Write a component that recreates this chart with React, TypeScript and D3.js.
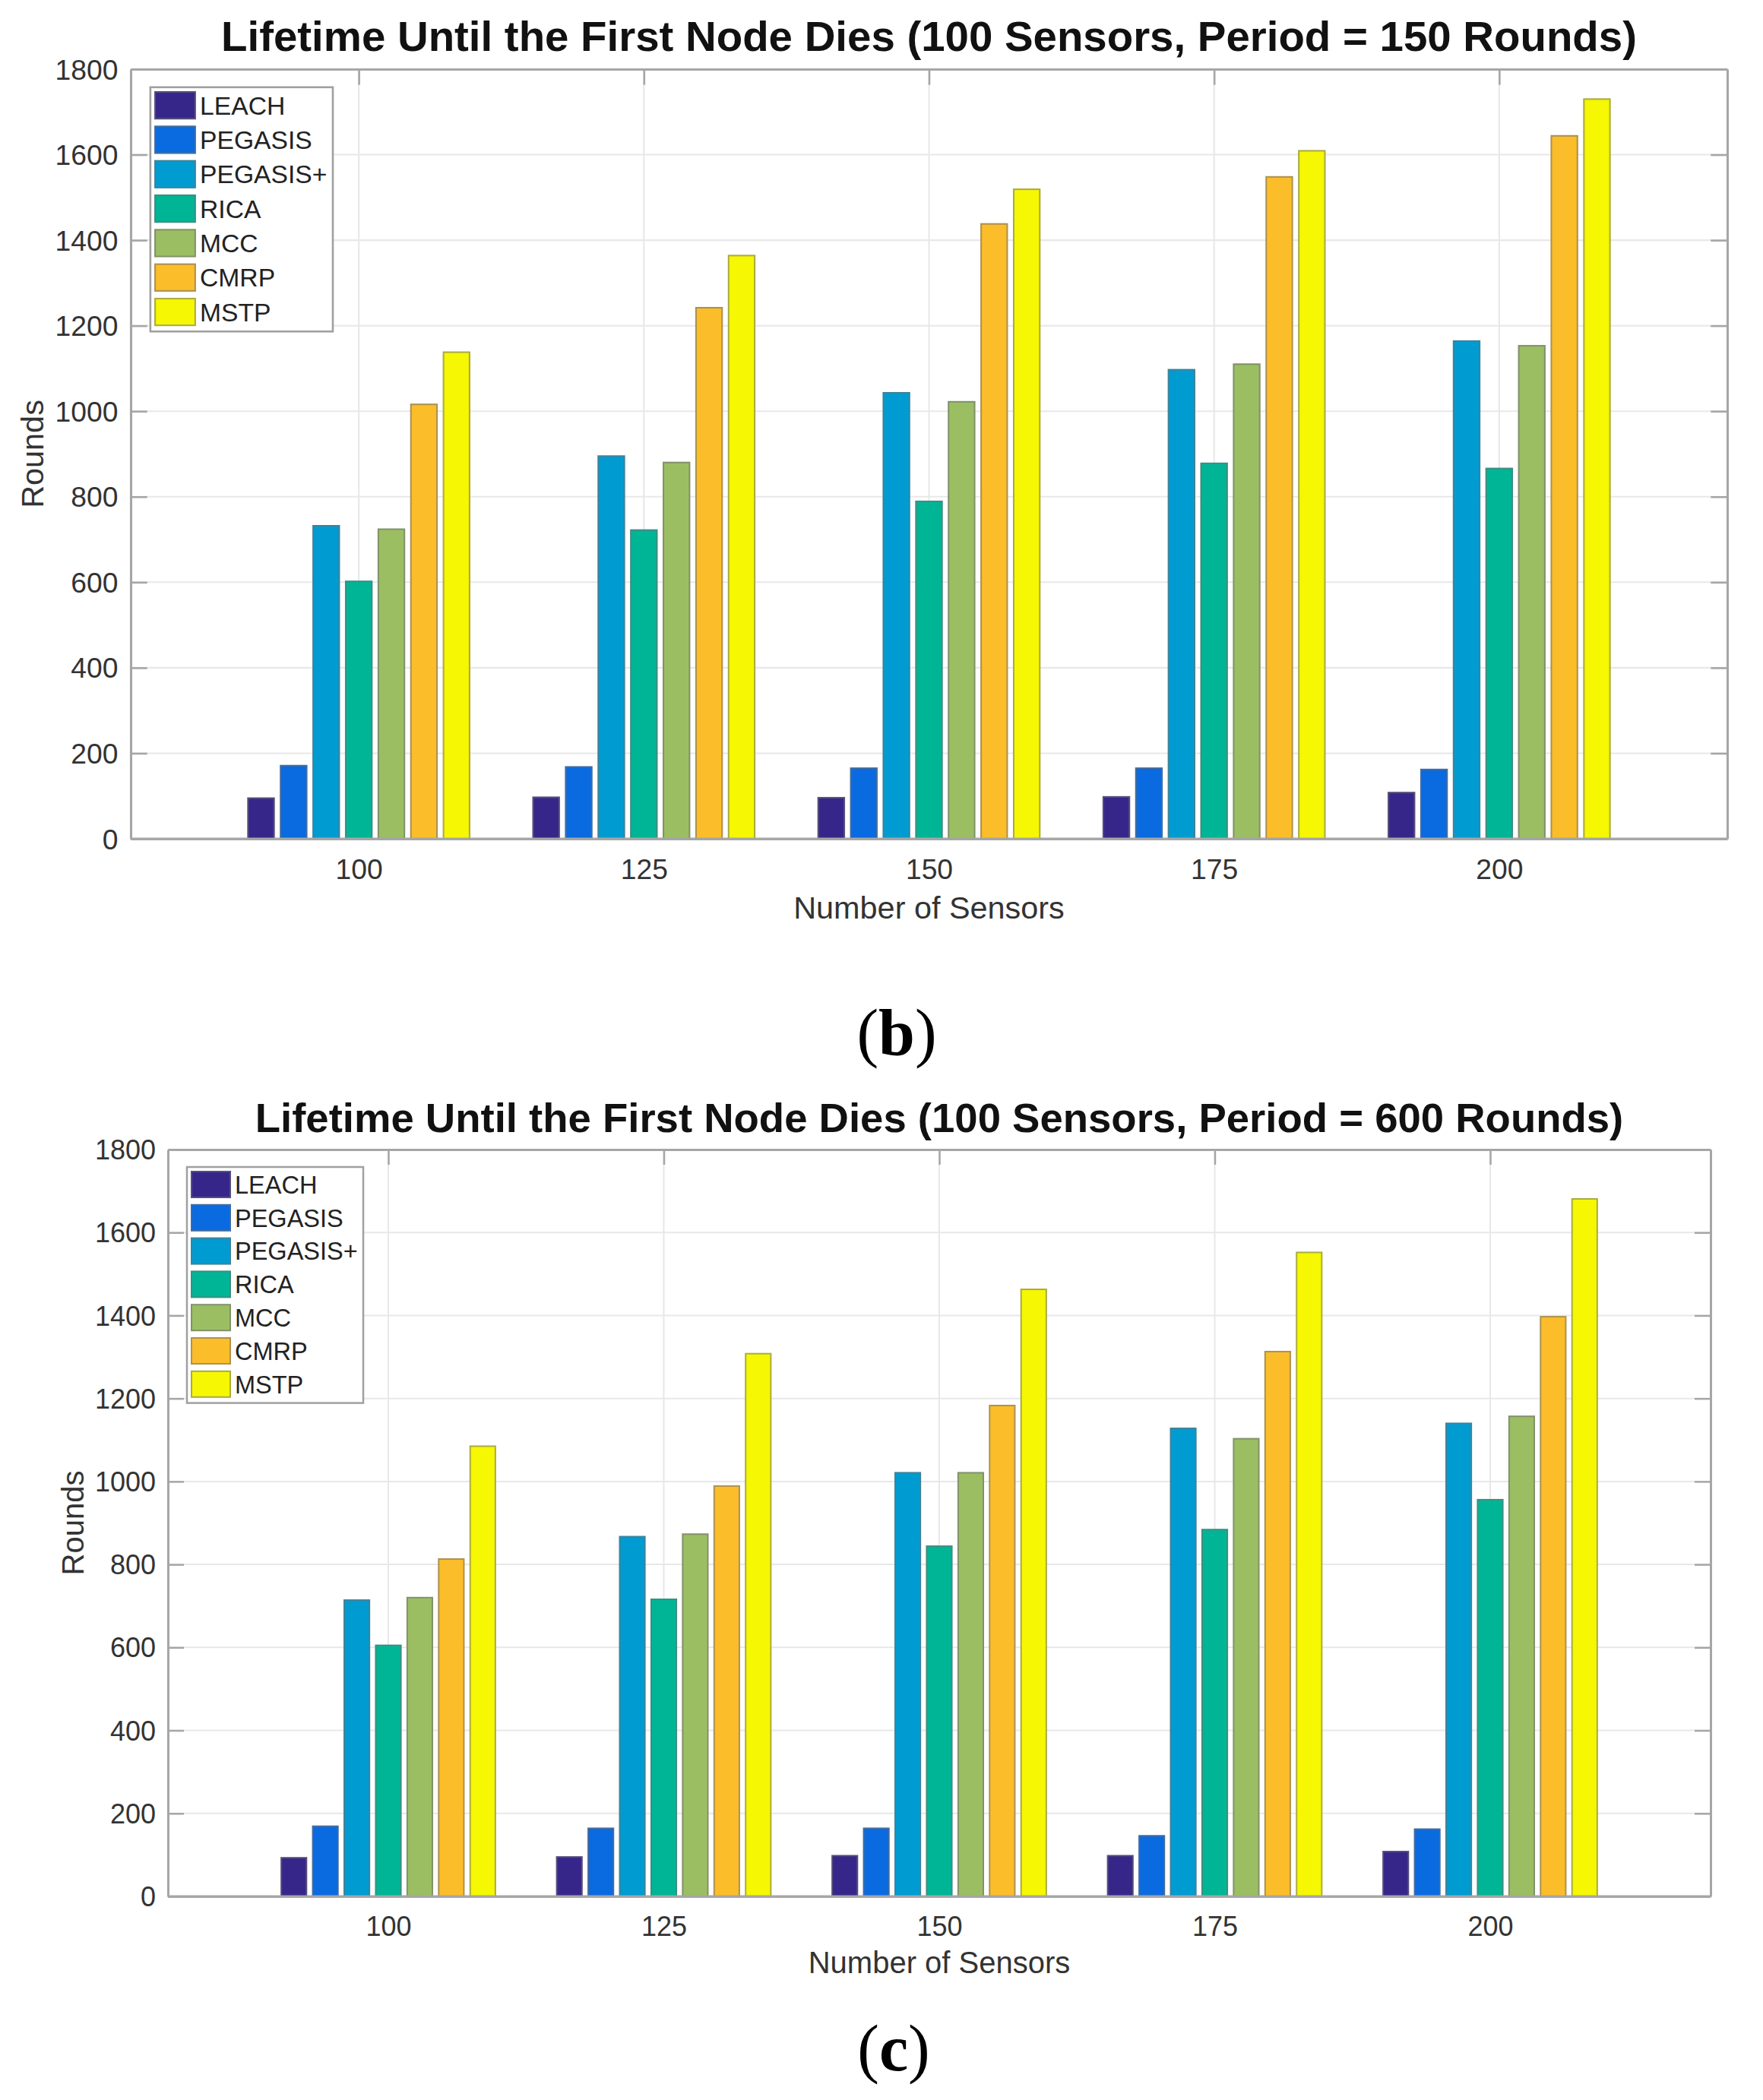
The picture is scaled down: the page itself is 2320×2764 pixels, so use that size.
import { useEffect, useRef } from 'react';
import * as d3 from 'd3';

const categories = ['100', '125', '150', '175', '200'];
const seriesNames = ['LEACH', 'PEGASIS', 'PEGASIS+', 'RICA', 'MCC', 'CMRP', 'MSTP'];
const seriesColors = ['#37268a', '#0a6ae0', '#009cd1', '#00b596', '#9bbe63', '#fbbd2a', '#f6f702'];
const yTicks = [0, 200, 400, 600, 800, 1000, 1200, 1400, 1600, 1800];

// (b) period = 150 rounds
const leachP150 = [95, 97, 96, 98, 108];
const pegasisP150 = [171, 168, 165, 165, 162];
const pegasisPlusP150 = [732, 895, 1043, 1097, 1164];
const ricaP150 = [602, 722, 789, 878, 866];
const mccP150 = [724, 880, 1022, 1110, 1153];
const cmrpP150 = [1016, 1242, 1438, 1548, 1644];
const mstpP150 = [1138, 1364, 1519, 1609, 1730];

// (c) period = 600 rounds
const leachP600 = [93, 95, 98, 98, 108];
const pegasisP600 = [169, 164, 164, 146, 162];
const pegasisPlusP600 = [714, 867, 1021, 1128, 1140];
const ricaP600 = [605, 716, 844, 884, 956];
const mccP600 = [720, 873, 1021, 1103, 1157];
const cmrpP600 = [813, 989, 1183, 1313, 1397];
const mstpP600 = [1085, 1308, 1463, 1552, 1681];

const roundsP150 = [leachP150, pegasisP150, pegasisPlusP150, ricaP150, mccP150, cmrpP150, mstpP150];
const roundsP600 = [leachP600, pegasisP600, pegasisPlusP600, ricaP600, mccP600, cmrpP600, mstpP600];

interface LifetimeChartProps {
  title: string;
  data: number[][];
  left: number;
  top: number;
  width: number;
  height: number;
  k: number;
}

function LifetimeChart({ title, data, left, top, width, height, k }: LifetimeChartProps) {
  const gRef = useRef<SVGGElement>(null);

  useEffect(() => {
    if (!gRef.current) return;
    const g = d3.select(gRef.current);
    g.selectAll('*').remove();

    const font = 'Liberation Sans, Arial, Helvetica, sans-serif';
    const axisColor = '#a6a6a6';
    const textColor = '#333333';

    const x = d3.scaleLinear()
      .domain([0.2, categories.length + 0.8])
      .range([left, left + width]);
    const y = d3.scaleLinear()
      .domain([0, 1800])
      .range([top + height, top]);

    const groupW = x(0.8) - x(0);
    const xb = d3.scaleBand<string>()
      .domain(seriesNames)
      .range([-groupW / 2, groupW / 2])
      .paddingInner(0.2)
      .paddingOuter(0.1);

    const edge = (c: string) => d3.interpolateRgb(c, '#6e6e6e')(0.55);

    // grid
    g.append('g')
      .selectAll('line')
      .data(yTicks.slice(1, -1))
      .join('line')
      .attr('x1', left)
      .attr('x2', left + width)
      .attr('y1', d => y(d))
      .attr('y2', d => y(d))
      .attr('stroke', '#e8e8e8')
      .attr('stroke-width', 2 * k);

    g.append('g')
      .selectAll('line')
      .data(categories)
      .join('line')
      .attr('x1', (d, i) => x(i + 1))
      .attr('x2', (d, i) => x(i + 1))
      .attr('y1', top)
      .attr('y2', top + height)
      .attr('stroke', '#e8e8e8')
      .attr('stroke-width', 2 * k);

    // axes (box on, ticks inward), drawn under the bars
    const styleAxis = (sel: d3.Selection<SVGGElement, unknown, null, undefined>) => {
      sel.attr('color', axisColor);
      sel.select('.domain').attr('stroke-width', 3 * k);
      sel.selectAll('.tick line').attr('stroke-width', 2.5 * k);
      sel.selectAll('.tick text')
        .attr('fill', textColor)
        .attr('font-size', 36 * k)
        .attr('font-family', font);
    };

    const tickLenY = 21 * k;
    const tickLenX = 20 * k;

    g.append('g')
      .attr('transform', `translate(${left},0)`)
      .call(d3.axisLeft(y)
        .tickValues(yTicks)
        .tickSize(-tickLenY)
        .tickSizeOuter(0)
        .tickPadding(16 * k)
        .tickFormat(d3.format('d')))
      .call(styleAxis)
      .selectAll('.tick text')
      .attr('dy', '0.35em');

    g.append('g')
      .attr('transform', `translate(${left + width},0)`)
      .call(d3.axisRight(y).tickValues(yTicks).tickSize(-tickLenY).tickSizeOuter(0).tickFormat(() => ''))
      .call(styleAxis);

    g.append('g')
      .attr('transform', `translate(0,${top})`)
      .call(d3.axisTop(x).tickValues([1, 2, 3, 4, 5]).tickSize(-tickLenX).tickSizeOuter(0).tickFormat(() => ''))
      .call(styleAxis);

    g.append('g')
      .attr('transform', `translate(0,${top + height})`)
      .call(d3.axisBottom(x)
        .tickValues([1, 2, 3, 4, 5])
        .tickSize(-tickLenX)
        .tickSizeOuter(0)
        .tickPadding(26 * k)
        .tickFormat((d, i) => categories[i]))
      .call(styleAxis);

    // bars
    const groups = g.append('g')
      .selectAll('g')
      .data(categories)
      .join('g')
      .attr('transform', (d, i) => `translate(${x(i + 1)},0)`);

    groups.selectAll('rect')
      .data((d, i) => seriesNames.map((s, j) => ({ s, v: data[j][i], c: seriesColors[j] })))
      .join('rect')
      .attr('x', d => xb(d.s)!)
      .attr('width', xb.bandwidth())
      .attr('y', d => y(d.v))
      .attr('height', d => y(0) - y(d.v))
      .attr('fill', d => d.c)
      .attr('stroke', d => edge(d.c))
      .attr('stroke-width', 2 * k);

    // bar baseline
    g.append('line')
      .attr('x1', left)
      .attr('x2', left + width)
      .attr('y1', y(0))
      .attr('y2', y(0))
      .attr('stroke', axisColor)
      .attr('stroke-width', 3 * k);

    // title and axis labels
    g.append('text')
      .attr('x', left + width / 2)
      .attr('y', top - 23 * k)
      .attr('text-anchor', 'middle')
      .attr('font-family', font)
      .attr('font-weight', 'bold')
      .attr('font-size', 54.5 * k)
      .attr('fill', '#111')
      .text(title);

    g.append('text')
      .attr('x', left + width / 2)
      .attr('y', top + height + 101 * k)
      .attr('text-anchor', 'middle')
      .attr('font-family', font)
      .attr('font-size', 40 * k)
      .attr('fill', textColor)
      .text('Number of Sensors');

    g.append('text')
      .attr('transform', `translate(${left - 111 * k},${top + height / 2}) rotate(-90)`)
      .attr('text-anchor', 'middle')
      .attr('font-family', font)
      .attr('font-size', 40 * k)
      .attr('fill', textColor)
      .text('Rounds');

    // legend
    const lx = left + 25 * k;
    const ly = top + 23 * k;
    const rowH = 43.8 * k;
    const legend = g.append('g');
    legend.append('rect')
      .attr('x', lx)
      .attr('y', ly)
      .attr('width', 232 * k)
      .attr('height', rowH * seriesNames.length + 4 * k)
      .attr('fill', '#fff')
      .attr('stroke', '#a0a0a0')
      .attr('stroke-width', 2.5 * k);

    const items = legend.selectAll('g.item')
      .data(seriesNames)
      .join('g')
      .attr('class', 'item')
      .attr('transform', (d, i) => `translate(${lx + 6 * k},${ly + 6 * k + i * rowH})`);

    items.append('rect')
      .attr('width', 51 * k)
      .attr('height', 34 * k)
      .attr('fill', (d, i) => seriesColors[i])
      .attr('stroke', (d, i) => edge(seriesColors[i]))
      .attr('stroke-width', 2 * k);

    items.append('text')
      .attr('x', 57 * k)
      .attr('y', 17 * k)
      .attr('dy', '0.36em')
      .attr('font-family', font)
      .attr('font-size', 32.5 * k)
      .attr('fill', '#222')
      .text(d => d);
  }, [title, data, left, top, width, height, k]);

  return <g ref={gRef} />;
}

export default function App() {
  const serif = 'Liberation Serif, Times New Roman, serif';
  return (
    <svg width={2320} height={2764} style={{ position: 'absolute', left: 0, top: 0 }}>
      <rect width={2320} height={2764} fill="#fff" />
      <LifetimeChart
        title="Lifetime Until the First Node Dies (100 Sensors, Period = 150 Rounds)"
        data={roundsP150}
        left={172}
        top={91}
        width={2101}
        height={1013}
        k={1.035}
      />
      <text x={1180} y={1388} textAnchor="middle" fontFamily={serif} fontSize={86} fill="#000">
        (<tspan fontWeight="bold">b</tspan>)
      </text>
      <LifetimeChart
        title="Lifetime Until the First Node Dies (100 Sensors, Period = 600 Rounds)"
        data={roundsP600}
        left={221}
        top={1513}
        width={2030}
        height={983}
        k={1}
      />
      <text x={1176} y={2725} textAnchor="middle" fontFamily={serif} fontSize={86} fill="#000">
        (<tspan fontWeight="bold">c</tspan>)
      </text>
    </svg>
  );
}
